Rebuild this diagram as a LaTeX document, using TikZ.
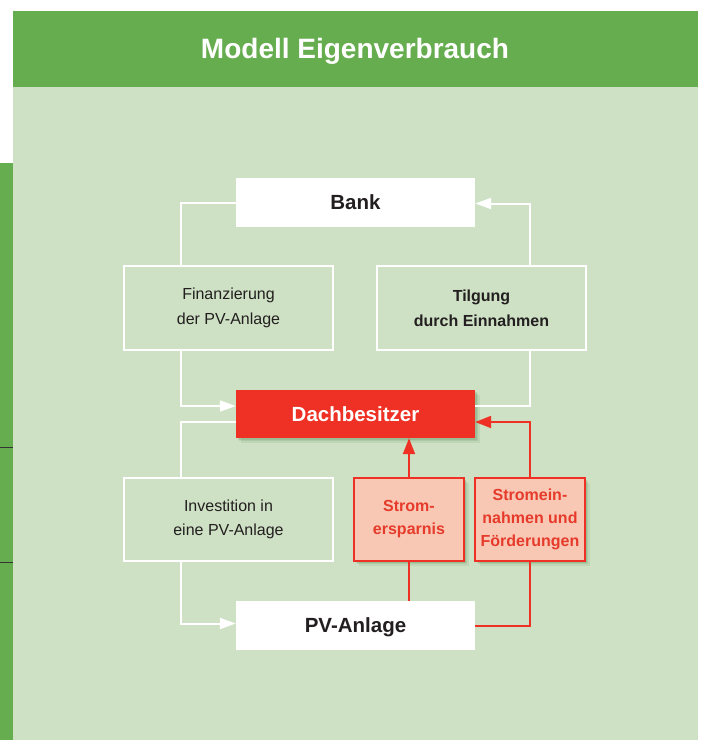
\documentclass[tikz,border=0pt]{standalone}
\usepackage{fontspec}
\setmainfont{Liberation Sans}
\usetikzlibrary{arrows.meta,shadows}
\definecolor{hgreen}{HTML}{65AD4E}
\definecolor{panel}{HTML}{CEE1C4}
\definecolor{dred}{HTML}{EE3124}
\definecolor{salmon}{HTML}{F9C8B4}
\definecolor{rtext}{HTML}{E63A2B}
\definecolor{dtext}{HTML}{231F20}
\begin{document}
\begin{tikzpicture}[x=1pt,y=-1pt,
  softshadow/.style={drop shadow={shadow xshift=4.5pt,shadow yshift=-4.5pt,fill=black!70!green,opacity=0.07},
                     drop shadow={shadow xshift=3pt,shadow yshift=-3pt,fill=black!70!green,opacity=0.09},
                     drop shadow={shadow xshift=1.5pt,shadow yshift=-1.5pt,fill=black!70!green,opacity=0.1}},
  wbox/.style={draw=white,line width=2pt,minimum width=209pt,minimum height=84pt,inner sep=0pt,align=center,text=dtext,font=\fontsize{16}{24.6}\selectfont},
  mainbox/.style={fill=white,minimum width=239pt,minimum height=49pt,inner sep=0pt,text depth=0pt,text=dtext,font=\bfseries\fontsize{20.5}{24}\selectfont},
  rbox/.style={draw=dred,fill=salmon,line width=2pt,minimum width=110pt,minimum height=83pt,inner sep=0pt,align=center,text=rtext,font=\bfseries\fontsize{16}{23}\selectfont,softshadow},
  wline/.style={draw=white,line width=2pt},
  rline/.style={draw=dred,line width=2pt},
  wtip/.style={-{Triangle[length=16pt,width=11pt]}},
  rtip/.style={-{Triangle[length=16pt,width=12pt]}}
]
\useasboundingbox (0,0) rectangle (701,740);
\fill[white] (0,0) rectangle (701,740);
\fill[panel] (13,87) rectangle (697.5,740);
\fill[hgreen] (13,11) rectangle (697.5,87);
\fill[hgreen] (0,163) rectangle (13,740);
\draw[black!80,line width=1pt] (0,447.3) -- (13,447.3);
\draw[black!80,line width=1pt] (0,562.3) -- (13,562.3);

\node[anchor=base,text=white,font=\bfseries\fontsize{28}{32}\selectfont] (title) at (355,58) {Modell Eigenverbrauch};

\coordinate (lx) at (180.5,0);
\coordinate (rx) at (529.5,0);

\node[mainbox] (bank) at (355.5,202.5) {Bank};
\node[wbox] (fin) at (228.5,308) {Finanzierung\\der PV-Anlage};
\node[wbox,font=\bfseries\fontsize{16}{24.6}\selectfont] (tilg) at (481.5,308) {Tilgung\\durch Einnahmen};
\node[mainbox,fill=dred,text=white,minimum height=48pt,softshadow] (dach) at (355.5,414) {Dachbesitzer};
\node[wbox,minimum height=83pt] (inv) at (228.5,519.5) {Investition in\\eine PV-Anlage};
\node[rbox] (ers) at (409,519.5) {Strom-\\ersparnis};
\node[rbox] (ein) at (530,519.5) {Stromein-\\nahmen und\\Förderungen};
\node[mainbox] (pv) at (355.5,625.5) {PV-Anlage};

% white connectors
\draw[wline] (bank.west) -| (fin.north -| lx);
\draw[wline,wtip] (fin.south -| lx) |- ([yshift=8pt]dach.west);
\draw[wline] ([yshift=-8pt]dach.west) -| (inv.north -| lx);
\draw[wline,wtip] (inv.south -| lx) |- ([yshift=2pt]pv.west);
\draw[wline,wtip] (tilg.north -| rx) |- ([yshift=-1pt]bank.east);
\draw[wline] (tilg.south -| rx) |- ([yshift=8pt]dach.east);

% red connectors
\draw[rline] (pv.north -| ers) -- (ers.south);
\draw[rline,rtip] (ers.north) -- (dach.south -| ers);
\draw[rline] (pv.east) -| (ein.south -| rx);
\draw[rline,rtip] (ein.north -| rx) |- ([yshift=-8pt]dach.east);
\end{tikzpicture}
\end{document}
